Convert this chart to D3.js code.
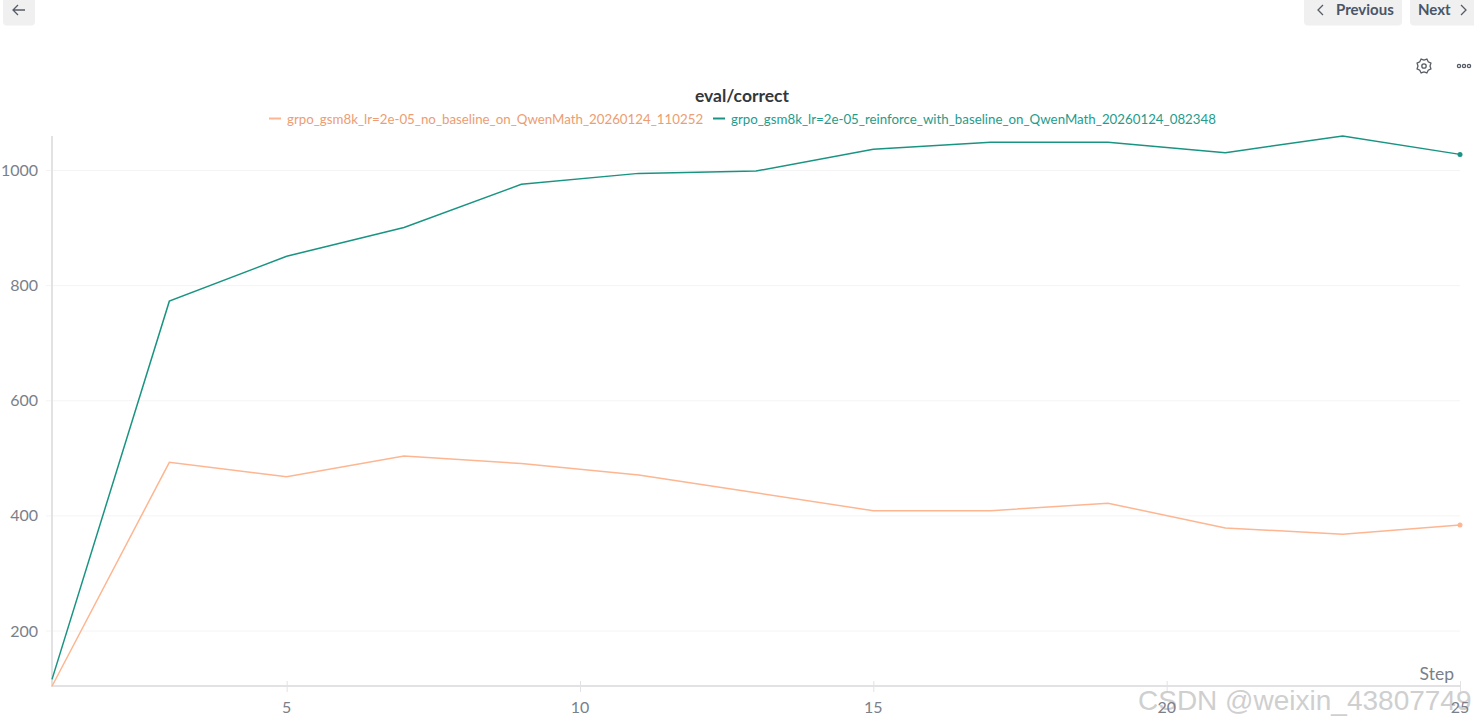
<!DOCTYPE html>
<html>
<head>
<meta charset="utf-8">
<script src="https://cdn.jsdelivr.net/npm/d3@7"></script>
<style>
    html, body { margin: 0; padding: 0; background: #fff; overflow: hidden; }
    svg { display: block; font-family: "Lato", "Noto Sans", sans-serif; }
    .grid line { stroke: #f4f4f5; }
    .axis-line { stroke: #e2e2e4; stroke-width: 2; }
    .tick-mark { stroke: #e2e2e4; }
    .tick-label { fill: #7a7f8a; font-size: 16px; }
    .btn { fill: #f0f0f1; }
    .btn-text { fill: #4a5568; font-size: 15px; font-weight: 700; }
    .icon { fill: none; stroke: #565c66; stroke-width: 1.3; }
</style>
</head>
<body>
<svg id="chart" width="1474" height="725"></svg>
<script>
var steps = [1, 3, 5, 7, 9, 11, 13, 15, 17, 19, 21, 23, 25];
var noBaseline = [104, 493, 468, 504, 491, 471, 440, 409, 409, 422, 379, 368, 384];
var withBaseline = [116, 773, 851, 901, 976, 995, 999, 1037, 1049, 1049, 1031, 1060, 1028];
var xTicks = [5, 10, 15, 20, 25];
var yTicks = [200, 400, 600, 800, 1000];
var seriesNames = [
    "grpo_gsm8k_lr=2e-05_no_baseline_on_QwenMath_20260124_110252",
    "grpo_gsm8k_lr=2e-05_reinforce_with_baseline_on_QwenMath_20260124_082348"
];
var seriesColors = ["#fdb691", "#1a9482"];
var legendColors = ["#ec9d72", "#1f9c8b"];

var svg = d3.select("#chart");
var x = d3.scaleLinear().domain([1, 25]).range([52, 1460]);
var y = d3.scaleLinear().domain([200, 1000]).range([631, 170.5]);
var axisY = 686;

// horizontal grid
svg.append("g").attr("class", "grid")
    .selectAll("line")
    .data(yTicks)
    .enter().append("line")
    .attr("x1", 46)
    .attr("x2", 1460)
    .attr("y1", function(d) { return y(d); })
    .attr("y2", function(d) { return y(d); });

svg.append("line").attr("class", "axis-line")
    .attr("x1", 52).attr("x2", 52)
    .attr("y1", 136).attr("y2", axisY + 1);
svg.append("line").attr("class", "axis-line")
    .attr("x1", 51).attr("x2", 1461)
    .attr("y1", axisY).attr("y2", axisY);

svg.selectAll(".x-mark")
    .data(xTicks)
    .enter().append("line")
    .attr("class", "tick-mark")
    .attr("x1", function(d) { return x(d) + 0.5; })
    .attr("x2", function(d) { return x(d) + 0.5; })
    .attr("y1", axisY - 5)
    .attr("y2", axisY + 6);

svg.selectAll(".y-label")
    .data(yTicks)
    .enter().append("text")
    .attr("class", "tick-label")
    .attr("x", 38)
    .attr("y", function(d) { return y(d) + 5.5; })
    .attr("text-anchor", "end")
    .text(function(d) { return d; });

svg.append("text").attr("class", "tick-label")
    .attr("x", 1454).attr("y", 680)
    .attr("text-anchor", "end")
    .style("font-size", "17.5px")
    .text("Step");

// series
var line = d3.line()
    .x(function(d) { return x(d[0]); })
    .y(function(d) { return y(d[1]); });

[noBaseline, withBaseline].forEach(function(values, i) {
    var points = d3.zip(steps, values);
    svg.append("path")
        .datum(points)
        .attr("fill", "none")
        .attr("stroke", seriesColors[i])
        .attr("stroke-width", 1.5)
        .attr("d", line);
    var last = points[points.length - 1];
    svg.append("circle")
        .attr("cx", x(last[0]))
        .attr("cy", y(last[1]))
        .attr("r", 2.5)
        .attr("fill", seriesColors[i]);
});

// title and legend
svg.append("text")
    .attr("x", 742).attr("y", 101.5)
    .attr("text-anchor", "middle")
    .attr("fill", "#33363b")
    .style("font-size", "17.5px")
    .style("font-weight", 700)
    .text("eval/correct");

var legendX = [269, 713];
seriesNames.forEach(function(name, i) {
    svg.append("line")
        .attr("x1", legendX[i]).attr("x2", legendX[i] + 12)
        .attr("y1", 118.5).attr("y2", 118.5)
        .attr("stroke", seriesColors[i])
        .attr("stroke-width", 2);
    svg.append("text")
        .attr("x", legendX[i] + 18).attr("y", 124)
        .attr("fill", legendColors[i])
        .style("font-size", "13.3px")
        .text(name);
});

// page chrome
svg.append("rect").attr("class", "btn").attr("x", 3).attr("y", -8).attr("width", 32).attr("height", 33.5).attr("rx", 4);
svg.append("rect").attr("class", "btn").attr("x", 1304).attr("y", -8).attr("width", 98).attr("height", 33.5).attr("rx", 4);
svg.append("rect").attr("class", "btn").attr("x", 1410).attr("y", -8).attr("width", 70).attr("height", 33.5).attr("rx", 4);
svg.append("path").attr("class", "icon").attr("d", "M13 10H25M18 5L13 10L18 15");
svg.append("path").attr("class", "icon").attr("d", "M1323 5L1318 10L1323 15");
svg.append("path").attr("class", "icon").attr("d", "M1461 5L1466 10L1461 15");
svg.append("text").attr("class", "btn-text").attr("x", 1336).attr("y", 15).text("Previous");
svg.append("text").attr("class", "btn-text").attr("x", 1418).attr("y", 15).text("Next");

// settings gear
var gear = svg.append("g").attr("transform", "translate(1424,66)");
gear.append("path").attr("class", "icon")
    .attr("d", d3.range(16).map(function(i) {
        var r = i % 2 ? 7.5 : 6;
        var a = i * Math.PI / 8;
        return (i ? "L" : "M") + (r * Math.cos(a)) + "," + (r * Math.sin(a));
    }).join("") + "Z");
gear.append("circle").attr("class", "icon").attr("r", 2.2);

// three dots
[1459, 1464, 1469].forEach(function(cx) {
    svg.append("circle").attr("class", "icon").attr("cx", cx).attr("cy", 66).attr("r", 1.6);
});

// watermark
var mark = "CSDN @weixin_43807749";
svg.append("text")
    .attr("x", 1138).attr("y", 710)
    .attr("fill", "#bbb")
    .attr("opacity", 0.7)
    .style("font-family", "'Liberation Sans', sans-serif")
    .style("font-size", "28px")
    .text(mark);

// x labels stay readable on top of the watermark, as in the screenshot
svg.selectAll(".x-label")
    .data(xTicks)
    .enter().append("text")
    .attr("class", "tick-label")
    .attr("x", function(d) { return x(d); })
    .attr("y", 713)
    .attr("text-anchor", "middle")
    .text(function(d) { return d; });
</script>
</body>
</html>
